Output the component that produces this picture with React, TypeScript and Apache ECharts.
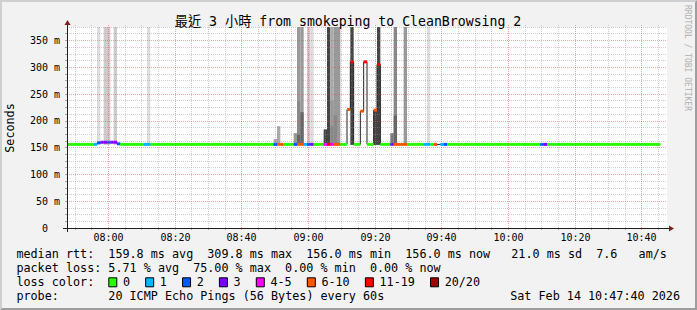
import React, { useEffect, useRef } from 'react';
import * as echarts from 'echarts';

// ---------- data ----------
const startClock = '07:47:40';
const titleText = '最近 3 小時 from smokeping to CleanBrowsing 2';
const xMajorLabels = ['08:00', '08:20', '08:40', '09:00', '09:20', '09:40', '10:00', '10:20', '10:40'];
const yMajorValues = [0, 50, 100, 150, 200, 250, 300, 350];

// median rtt (ms), one sample per minute, starting 07:47:40
const medianMs = [
  156, 156, 156, 156, 156, 156, 156, 156, 156, 159, 160, 160, 160, 160, 160, 157, 156, 156, 156, 156,
  156, 156, 156, 156, 156, 156, 156, 156, 156, 156, 156, 156, 156, 156, 156, 156, 156, 156, 156, 156,
  156, 156, 156, 156, 156, 156, 156, 156, 156, 156, 156, 156, 156, 156, 156, 156, 156, 156, 156, 156,
  156, 156, 156, 156, 156, 156, 156, 156, 156, 156, 156, 156, 156, 156, 156, 156, 156, 156, 156, 156,
  156, 156, 156, 156, 221, 310, 156, 156, 218, 310, 156, 156, 220, 305, 156, 156, 156, 156, 156, 156,
  156, 156, 156, 156, 156, 156, 156, 156, 156, 156, 156, 156, 156, 156, 156, 156, 156, 156, 156, 156,
  156, 156, 156, 156, 156, 156, 156, 156, 156, 156, 156, 156, 156, 156, 156, 156, 156, 156, 156, 156,
  156, 156, 156, 156, 156, 156, 156, 156, 156, 156, 156, 156, 156, 156, 156, 156, 156, 156, 156, 156,
  156, 156, 156, 156, 156, 156, 156, 156, 156, 156, 156, 156, 156, 156, 156, 156, 156, 156,
];

// loss class per sample (index into lossColors, -1 = unknown)
const lossClass = [
  0, 0, 0, 0, 0, 0, 0, 0, 1, 2, 3, 3, 2, 3, 3, 2, 0, 0, 0, 0,
  0, 0, 0, 1, 1, 0, 0, 0, 0, 0, 0, 0, 0, 0, 0, 0, 0, 0, 0, 0,
  0, 0, 0, 0, 0, 0, 0, 0, 0, 0, 0, 0, 0, 0, 0, 0, 0, 0, 0, 0,
  0, 0, 2, 5, 5, 0, 0, 0, 2, 5, 5, 1, 2, 3, 0, 0, 0, 4, 6, 4,
  5, 5, 0, 0, 5, 6, 0, 0, 5, 6, 0, 0, 5, 6, 0, 0, 0, 3, 5, 5,
  5, 5, 0, 0, 0, 0, 0, 1, 1, 0, 5, -1, 1, 2, 0, 0, 0, 0, 0, 0,
  0, 0, 0, 0, 0, 0, 0, 0, 0, 0, 0, 0, 0, 0, 0, 0, 0, 0, 0, 0,
  0, 0, 2, 3, 0, 0, 0, 0, 0, 0, 0, 0, 0, 0, 0, 0, 0, 0, 0, 0,
  0, 0, 0, 0, 0, 0, 0, 0, 0, 0, 0, 0, 0, 0, 0, 0, 0, 0,
];
const lossLabels = ['0', '1', '2', '3', '4-5', '6-10', '11-19', '20/20'];

// smoke (ping spread) layers: sample index, low ms, high ms, density level
const smokeSample = [9, 11, 12, 14, 24, 62, 63, 68, 69, 69, 69, 70, 70, 72, 73, 77, 78, 79, 79, 79, 80, 80, 81, 85, 92, 93, 97, 98, 98, 101, 108];
const smokeLow = [155, 155, 155, 155, 155, 155, 155, 155, 155, 155, 155, 155, 155, 155, 155, 155, 155, 155, 155, 155, 155, 155, 155, 155, 155, 155, 155, 155, 155, 155, 155];
const smokeHigh = [400, 400, 400, 400, 400, 166, 190, 177, 400, 237, 174, 400, 216, 400, 400, 184, 400, 400, 238, 190, 400, 210, 400, 400, 220, 400, 177, 400, 210, 400, 400];
const smokeLevel = [1, 2, 2, 2, 1, 3, 3, 4, 4, 5, 7, 4, 7, 2, 1, 8, 8, 3, 4, 5, 4, 5, 4, 8, 8, 8, 6, 5, 7, 4, 1];

const statsLines = [
  'median rtt:  159.8 ms avg  309.8 ms max  156.0 ms min  156.0 ms now   21.0 ms sd  7.6   am/s',
  'packet loss: 5.71 % avg  75.00 % max  0.00 % min  0.00 % now',
];
const lossTitle = 'loss color:';
const probeTitle = 'probe:';
const probeText = '20 ICMP Echo Pings (56 Bytes) every 60s';
const stampText = 'Sat Feb 14 10:47:40 2026';
const yAxisName = 'Seconds';
const watermark = 'RRDTOOL / TOBI OETIKER';

// ---------- styles ----------
const W = 697;
const H = 310;
const G = { left: 67, top: 27, width: 600, height: 201 };
const MONO = '"DejaVu Sans Mono", "Noto Sans CJK TC", monospace';
const lossColors = ['#26ff00', '#00b8ff', '#0059ff', '#7e00ff', '#ff00ff', '#ff5500', '#ff0000', '#a10000'];
const smokeGrays = ['#ffffff', '#dddddd', '#cccccc', '#aaaaaa', '#999999', '#888888', '#777777', '#666666', '#444444'];
const GRID_C = 'rgba(143,143,143,0.42)';
const MGRID_C = 'rgba(222,79,79,0.5)';
const TICK_C = 'rgba(143,143,143,0.75)';
const AXIS_C = '#1f1f1f';
const ARROW_C = '#801f1f';
const CH = 7.07;
const TX = 16.4;
const ROWS = [254.3, 268.3, 282.3, 296.3];

const clockToMin = (s: string) => {
  const p = s.split(':').map(Number);
  return p[0] * 60 + p[1] + (p[2] || 0) / 60;
};
const startMin = clockToMin(startClock);

function chunks(line: string) {
  const out: { text: string; col: number }[] = [];
  const re = /\S+(?: \S+)*/g;
  let m: RegExpExecArray | null;
  while ((m = re.exec(line))) out.push({ text: m[0], col: m.index });
  return out;
}

function textEl(text: string, x: number, y: number, extra: any = {}) {
  return {
    type: 'text',
    x,
    y,
    z: 100,
    ...extra,
    style: {
      text,
      fill: '#000',
      fontFamily: MONO,
      fontSize: 11.75,
      align: 'left',
      verticalAlign: 'middle',
      ...(extra.style || {}),
    },
  };
}

function buildOption() {
  const smokeData = smokeSample.map((s, k) => [s, smokeLow[k], smokeHigh[k], smokeLevel[k]]);
  const lineData: number[][] = medianMs.map((v, i) => [i, v]);
  lineData.push([medianMs.length, medianMs[medianMs.length - 1]]);
  const boxData = medianMs.map((v, i) => [i, v, lossClass[i]]);

  const ticks: { v: number; major: boolean; label: string }[] = [];
  const first = Math.ceil(startMin / 5) * 5;
  for (let m = first; m < startMin + 180; m += 5) {
    const hh = String(Math.floor(m / 60)).padStart(2, '0');
    const mm = String(m % 60).padStart(2, '0');
    const label = hh + ':' + mm;
    ticks.push({ v: m - startMin, major: xMajorLabels.indexOf(label) >= 0, label });
  }

  const graphics: any[] = [];
  // 3d border
  graphics.push({ type: 'polygon', z: 100, shape: { points: [[0, H], [2, H - 2], [2, 2], [W - 2, 2], [W, 0], [0, 0]] }, style: { fill: '#cfcfcf' } });
  graphics.push({ type: 'polygon', z: 100, shape: { points: [[2, H - 2], [W - 2, H - 2], [W - 2, 2], [W, 0], [W, H], [0, H]] }, style: { fill: '#9e9e9e' } });
  // title
  graphics.push(textEl(titleText, 348, 21.5, { style: { fontSize: 13.2, align: 'center' } }));
  // y axis name
  graphics.push(textEl(yAxisName, 10, 128, { rotation: Math.PI / 2, style: { align: 'center' } }));
  // watermark
  graphics.push(textEl(watermark, 687.5, 5, { rotation: -Math.PI / 2, style: { fontSize: 8, fill: '#b0b0b0' } }));
  // axes
  const bottom = G.top + G.height;
  const right = G.left + G.width;
  graphics.push({ type: 'line', z: 100, shape: { x1: G.left - 4, y1: bottom + 0.5, x2: right + 4, y2: bottom + 0.5 }, style: { stroke: AXIS_C, lineWidth: 1 } });
  graphics.push({ type: 'line', z: 100, shape: { x1: G.left + 0.5, y1: bottom + 4, x2: G.left + 0.5, y2: G.top - 4 }, style: { stroke: AXIS_C, lineWidth: 1 } });
  graphics.push({ type: 'polygon', z: 101, shape: { points: [[right + 2, bottom - 2.5], [right + 2, bottom + 3.5], [right + 7, bottom + 0.5]] }, style: { fill: ARROW_C } });
  graphics.push({ type: 'polygon', z: 101, shape: { points: [[G.left - 2.5, G.top - 2], [G.left + 3.5, G.top - 2], [G.left + 0.5, G.top - 7]] }, style: { fill: ARROW_C } });

  // stats lines
  statsLines.forEach((line, r) => {
    chunks(line).forEach((c) => graphics.push(textEl(c.text, TX + c.col * CH, ROWS[r])));
  });
  // loss color legend
  graphics.push(textEl(lossTitle, TX, ROWS[2]));
  let bx = TX + 13 * CH;
  lossLabels.forEach((lab, k) => {
    graphics.push({ type: 'rect', z: 100, shape: { x: bx + 0.5, y: ROWS[2] - 4.5, width: 8, height: 9 }, style: { fill: lossColors[k], stroke: '#000', lineWidth: 1 } });
    const lx = bx + 14.6;
    graphics.push(textEl(lab, lx, ROWS[2]));
    bx = lx + lab.length * CH + 15.2;
  });
  // probe line
  graphics.push(textEl(probeTitle, TX, ROWS[3]));
  graphics.push(textEl(probeText, TX + 13 * CH, ROWS[3]));
  graphics.push(textEl(stampText, 680, ROWS[3], { style: { align: 'right' } }));

  return {
    animation: false,
    backgroundColor: '#f2f2f2',
    grid: { ...G, show: true, backgroundColor: '#ffffff', borderWidth: 0, containLabel: false, outerBoundsMode: 'none' },
    xAxis: { type: 'value', min: 0, max: 180, show: false },
    yAxis: {
      type: 'value',
      min: 0,
      max: 375,
      interval: 12.5,
      z: 5,
      axisLine: { show: false },
      axisTick: { show: true, length: 2, lineStyle: { color: TICK_C } },
      axisLabel: {
        margin: 7,
        color: '#000',
        fontFamily: MONO,
        fontSize: 10,
        showMaxLabel: false,
        formatter: (v: number) => (yMajorValues.indexOf(v) < 0 ? '' : v === 0 ? '{z|0}' : v + ' m'),
        rich: { z: { fontFamily: MONO, fontSize: 10, color: '#000', padding: [0, 12, 0, 0] } },
      },
      splitLine: { show: true, lineStyle: { color: [MGRID_C, GRID_C, GRID_C, GRID_C], type: [1, 1], width: 1 } },
    },
    series: [
      {
        type: 'custom',
        name: 'smoke',
        z: 2,
        data: smokeData,
        renderItem: (params: any, api: any) => {
          const i = api.value(0);
          const p0 = api.coord([i, api.value(2)]);
          const p1 = api.coord([i + 1, api.value(1)]);
          const rect = echarts.graphic.clipRectByRect(
            { x: p0[0], y: p0[1], width: p1[0] - p0[0], height: p1[1] - p0[1] },
            params.coordSys,
          );
          if (!rect) return null;
          return { type: 'rect', shape: rect, style: { fill: smokeGrays[api.value(3)] } };
        },
      },
      {
        type: 'line',
        name: 'median',
        z: 3,
        data: lineData,
        step: 'end',
        symbol: 'none',
        lineStyle: { color: '#202020', width: 1 },
      },
      {
        type: 'custom',
        name: 'loss',
        z: 4,
        data: boxData,
        renderItem: (params: any, api: any) => {
          const c = api.value(2);
          if (c < 0) return null;
          const i = api.value(0);
          const p0 = api.coord([i, api.value(1)]);
          const p1 = api.coord([i + 1, api.value(1)]);
          return { type: 'rect', shape: { x: p0[0], y: p0[1] - 1.5, width: p1[0] - p0[0], height: 3 }, style: { fill: lossColors[c] } };
        },
      },
      {
        type: 'custom',
        name: 'xgrid',
        z: 6,
        data: ticks.map((t) => [t.v, t.major ? 1 : 0]),
        renderItem: (params: any, api: any) => {
          const t = ticks[params.dataIndex];
          const cs = params.coordSys;
          const x = Math.round(api.coord([api.value(0), 0])[0]) + 0.5;
          const top = cs.y;
          const bot = cs.y + cs.height;
          const color = t.major ? MGRID_C : GRID_C;
          const children: any[] = [
            { type: 'line', shape: { x1: x, y1: top - 2, x2: x, y2: bot }, style: { stroke: color, lineWidth: 1, lineDash: [1, 1] } },
            { type: 'line', shape: { x1: x, y1: bot, x2: x, y2: bot + 2 }, style: { stroke: t.major ? MGRID_C : TICK_C, lineWidth: 1 } },
          ];
          if (t.major) {
            children.push({
              type: 'text',
              x,
              y: bot + 9.7,
              style: { text: t.label, fill: '#000', fontFamily: MONO, fontSize: 10, align: 'center', verticalAlign: 'middle' },
            });
          }
          return { type: 'group', children };
        },
      },
    ],
    graphic: { elements: graphics },
  };
}

export default function App() {
  const ref = useRef<HTMLDivElement>(null);
  useEffect(() => {
    if (!ref.current) return;
    const chart = echarts.init(ref.current, null, { renderer: 'svg', width: W, height: H });
    chart.setOption(buildOption() as any);
    return () => chart.dispose();
  }, []);
  return <div ref={ref} style={{ position: 'absolute', left: 0, top: 0, width: W, height: H }} />;
}
